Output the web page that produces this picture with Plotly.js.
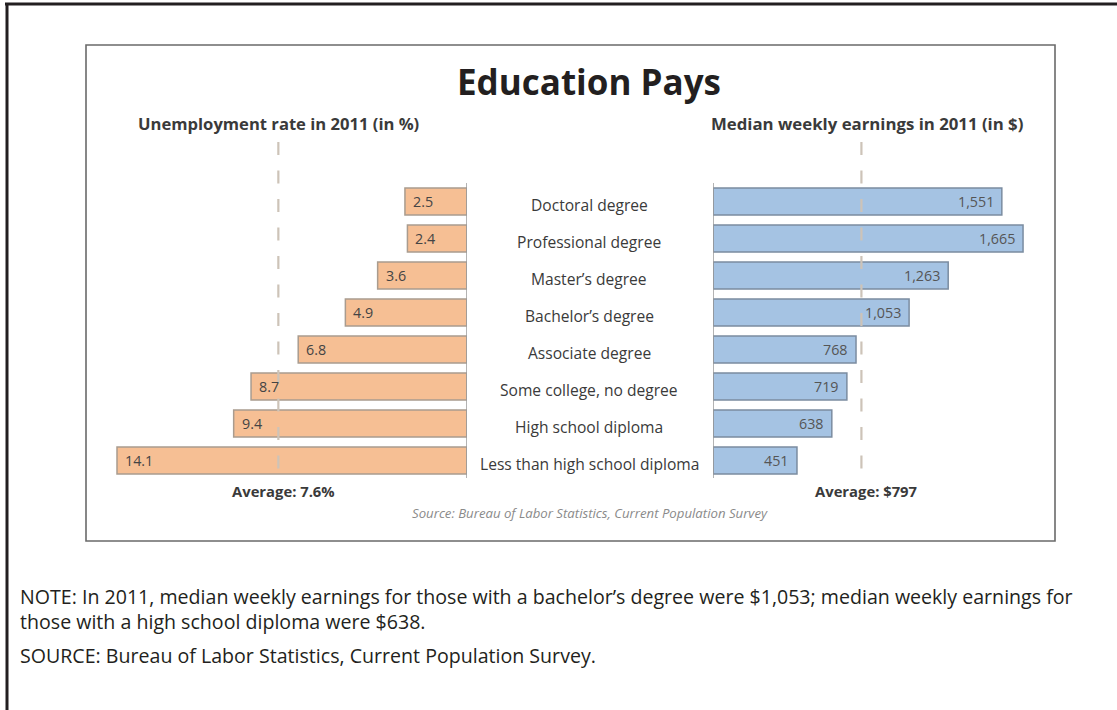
<!DOCTYPE html>
<html>
<head>
<meta charset="utf-8">
<script src="https://cdn.plot.ly/plotly-3.0.1.min.js"></script>
<style>html,body{margin:0;padding:0;background:#fff;}#chart{width:1117px;height:710px;}</style>
</head>
<body>
<div id="chart"></div>
<script>
// ---- data ----
const categories = ['Doctoral degree', 'Professional degree', 'Master\u2019s degree', 'Bachelor\u2019s degree',
  'Associate degree', 'Some college, no degree', 'High school diploma', 'Less than high school diploma'];
const unemploymentRate = [2.5, 2.4, 3.6, 4.9, 6.8, 8.7, 9.4, 14.1];
const weeklyEarnings = [1551, 1665, 1263, 1053, 768, 719, 638, 451];
const avgUnemployment = 7.6;
const avgEarnings = 797;

const chartTitle = 'Education Pays';
const leftTitle = 'Unemployment rate in 2011 (in %)';
const rightTitle = 'Median weekly earnings in 2011 (in $)';
const leftAvgLabel = 'Average: 7.6%';
const rightAvgLabel = 'Average: $797';
const innerSource = 'Source: Bureau of Labor Statistics, Current Population Survey';
const noteLine1 = 'NOTE: In 2011, median weekly earnings for those with a bachelor\u2019s degree were $1,053; median weekly earnings for';
const noteLine2 = 'those with a high school diploma were $638.';
const sourceLine = 'SOURCE: Bureau of Labor Statistics, Current Population Survey.';

// ---- layout helpers ----
const W = 1117, H = 710;
const px = v => v / W;
const py = v => 1 - v / H;
const FONT = 'Open Sans, Lato, sans-serif';

const traces = [
  {
    type: 'bar', orientation: 'h', y: categories, x: unemploymentRate,
    xaxis: 'x', yaxis: 'y', width: 0.73, hoverinfo: 'none',
    marker: {color: '#f6bf94', line: {color: '#a99c8f', width: 1.5}}
  },
  {
    type: 'bar', orientation: 'h', y: categories, x: weeklyEarnings,
    xaxis: 'x2', yaxis: 'y', width: 0.73, hoverinfo: 'none',
    marker: {color: '#a5c3e3', line: {color: '#7b8ca0', width: 1.5}}
  }
];

const annotations = [];
const txt = (text, x, y, size, opts) => Object.assign({
  text: text, x: x, y: y, xref: 'paper', yref: 'paper', showarrow: false,
  xanchor: 'center', yanchor: 'middle', font: {family: FONT, size: size, color: '#333'}
}, opts || {});

annotations.push(txt('<b>' + chartTitle + '</b>', px(589), py(82), 35, {font: {family: FONT, size: 35, color: '#231f20'}}));
annotations.push(txt('<b>' + leftTitle + '</b>', px(278.5), py(124), 16.6, {font: {family: FONT, size: 16.6, color: '#3a3a3a'}}));
annotations.push(txt('<b>' + rightTitle + '</b>', px(867.5), py(124), 16.8, {font: {family: FONT, size: 16.8, color: '#3a3a3a'}}));
annotations.push(txt('<b>' + leftAvgLabel + '</b>', avgUnemployment, py(491), 14.8,
  {xref: 'x', xshift: 5, font: {family: FONT, size: 14.8, color: '#3a3a3a'}}));
annotations.push(txt('<b>' + rightAvgLabel + '</b>', avgEarnings, py(491), 14.8,
  {xref: 'x2', xshift: 5, font: {family: FONT, size: 14.8, color: '#3a3a3a'}}));
annotations.push(txt('<i>' + innerSource + '</i>', px(589.5), py(513), 13.2, {font: {family: FONT, size: 13.2, color: '#8a8a8a'}}));
annotations.push(txt(noteLine1 + '<br>' + noteLine2, px(18), py(608.5), 19.6,
  {xanchor: 'left', align: 'left', font: {family: FONT, size: 19.6, color: '#231f20'}}));
annotations.push(txt(sourceLine, px(18), py(655), 19.6, {xanchor: 'left', font: {family: FONT, size: 19.6, color: '#231f20'}}));

categories.forEach((c, i) => {
  annotations.push({
    text: c, xref: 'paper', yref: 'y', x: px(589), y: c, showarrow: false,
    xanchor: 'center', yanchor: 'middle', yshift: -3,
    font: {family: FONT, size: 15.6, color: '#3a3a3a'}
  });
  annotations.push({
    text: String(unemploymentRate[i]), xref: 'x', yref: 'y', x: unemploymentRate[i], y: c,
    showarrow: false, xanchor: 'left', yanchor: 'middle', xshift: 6, yshift: 0,
    font: {family: FONT, size: 14.3, color: '#444'}
  });
  annotations.push({
    text: weeklyEarnings[i].toLocaleString('en-US'), xref: 'x2', yref: 'y', x: weeklyEarnings[i], y: c,
    showarrow: false, xanchor: 'right', yanchor: 'middle', xshift: -6, yshift: 0,
    font: {family: FONT, size: 14.3, color: '#555'}
  });
});

const shapes = [
  // outer frame (top and left)
  {type: 'line', xref: 'paper', yref: 'paper', x0: px(5), x1: 1, y0: py(4), y1: py(4), line: {color: '#231f20', width: 3}},
  {type: 'line', xref: 'paper', yref: 'paper', x0: px(7), x1: px(7), y0: py(3), y1: 0, line: {color: '#231f20', width: 3}},
  // inner chart box
  {type: 'rect', xref: 'paper', yref: 'paper', x0: px(86), x1: px(1055), y0: py(541), y1: py(45),
    line: {color: '#6a6a6a', width: 1.6}},
  // zero axis lines
  {type: 'line', xref: 'x', yref: 'paper', x0: 0, x1: 0, y0: py(478), y1: py(183), line: {color: '#9a9a9a', width: 1.5}},
  {type: 'line', xref: 'x2', yref: 'paper', x0: 0, x1: 0, y0: py(478), y1: py(183), line: {color: '#9a9a9a', width: 1.5}},
  // average dashed lines
  {type: 'line', xref: 'x', yref: 'paper', x0: avgUnemployment, x1: avgUnemployment, y0: py(142), y1: py(479),
    line: {color: '#cdc3b8', width: 2.2, dash: '13px,15.5px'}, layer: 'above'},
  {type: 'line', xref: 'x2', yref: 'paper', x0: avgEarnings, x1: avgEarnings, y0: py(142), y1: py(479),
    line: {color: '#cdc3b8', width: 2.2, dash: '13px,15.5px'}, layer: 'above'}
];

const axisCommon = {showgrid: false, zeroline: false, showticklabels: false, ticks: '', showline: false, fixedrange: true};

const layout = {
  width: W, height: H,
  margin: {l: 0, r: 0, t: 0, b: 0},
  paper_bgcolor: '#ffffff', plot_bgcolor: 'rgba(0,0,0,0)',
  showlegend: false,
  bargap: 0.27,
  xaxis: Object.assign({}, axisCommon, {domain: [px(100), px(467)], range: [14.785, 0], anchor: 'y'}),
  xaxis2: Object.assign({}, axisCommon, {domain: [px(713), px(1040)], range: [0, 1756], anchor: 'y'}),
  yaxis: Object.assign({}, axisCommon, {type: 'category', categoryorder: 'array', categoryarray: categories,
    domain: [py(479), py(183)], range: [7.5, -0.5], anchor: 'x'}),
  annotations: annotations,
  shapes: shapes,
  font: {family: FONT}
};

Plotly.newPlot('chart', traces, layout, {staticPlot: true, displayModeBar: false});
</script>
</body>
</html>
